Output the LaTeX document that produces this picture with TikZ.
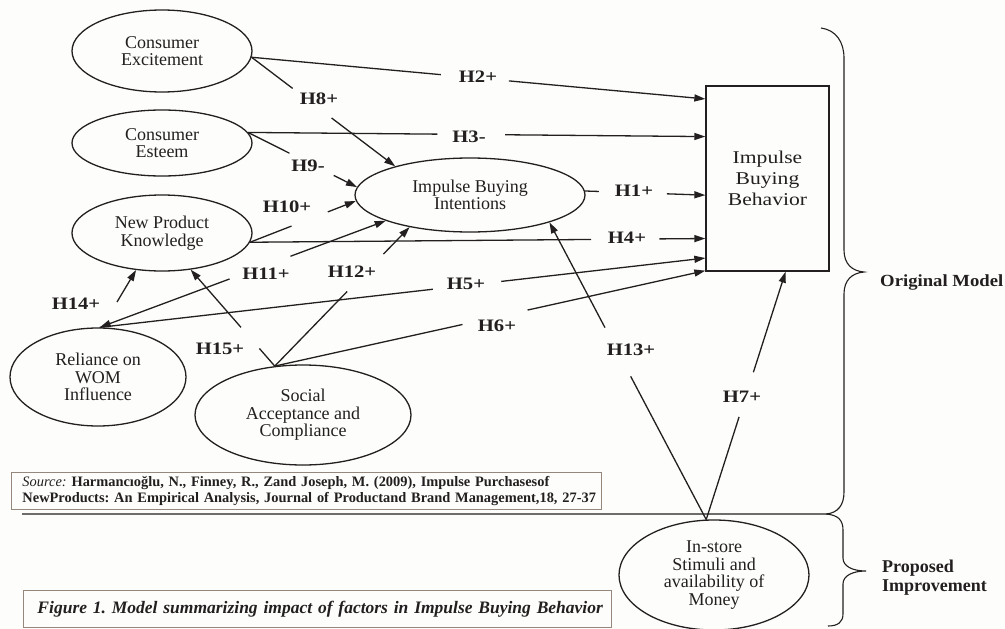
\documentclass[tikz,border=0pt]{standalone}
\usepackage{fontspec}
\setmainfont{Liberation Serif}
\newfontfamily\widefont{Liberation Serif}[FakeStretch=1.18]
\newfontfamily\midfont{Liberation Serif}[FakeStretch=1.1]
\newfontfamily\boxfont{Liberation Serif}[FakeStretch=1.2]
\usetikzlibrary{shapes.geometric,arrows.meta,calc}
\definecolor{ink}{RGB}{35,31,32}
\definecolor{bgc}{RGB}{253,253,251}
\definecolor{frame}{RGB}{150,135,125}
\frenchspacing
\begin{document}
\begin{tikzpicture}[x=1pt,y=-1pt,
  oval/.style={ellipse, draw=ink, line width=1.3pt, inner sep=0pt, align=center, text=ink,
               font=\fontsize{18}{17.6}\selectfont},
  hlab/.style={inner sep=0pt, text=ink, font=\widefont\bfseries\fontsize{17.5}{18}\selectfont},
  link/.style={draw=ink, line width=1.3pt},
  arr/.style={link, -{Triangle[length=11pt,width=7pt]}},
  bracepath/.style={draw=ink, line width=1.1pt},
  framebox/.style={draw=frame, line width=1pt, anchor=north west, align=left, text=ink}
]
\useasboundingbox (0,0) rectangle (1005,629);
\fill[bgc] (0,0) rectangle (1005,629);

% nodes
\node[oval, minimum width=180pt, minimum height=82pt] (CE) at (162,51) {Consumer\\Excitement};
\node[oval, minimum width=180pt, minimum height=66pt] (Est) at (162,143) {Consumer\\Esteem};
\node[oval, minimum width=180pt, minimum height=76pt] (NPK) at (162,233) {New Product\\Knowledge};
\node[oval, minimum width=230pt, minimum height=74pt] (IBI) at (470,195) {Impulse Buying\\Intentions};
\node[oval, minimum width=176pt, minimum height=98pt] (WOM) at (98,377) {Reliance on\\WOM\\Influence};
\node[oval, minimum width=216pt, minimum height=100pt] (SAC) at (303,415) {Social\\Acceptance and\\Compliance};
\node[oval, minimum width=190pt, minimum height=110pt] (InS) at (714,575) {In-store\\Stimuli and\\availability of\\Money};
\node[draw=ink, line width=1.3pt, minimum width=123pt, minimum height=185pt, inner sep=0pt,
      align=center, text=ink, font=\boxfont\fontsize{18}{21}\selectfont] (IBB) at (767.5,178.5)
      {Impulse\\Buying\\Behavior};

% labels
\node[hlab] (l2) at (478,77) {H2+};
\node[hlab] (l8) at (319,99) {H8+};
\node[hlab] (l3) at (469,137) {H3-};
\node[hlab] (l9) at (308,166) {H9-};
\node[hlab] (l10) at (287,207) {H10+};
\node[hlab] (l1) at (634,191) {H1+};
\node[hlab] (l4) at (627,238) {H4+};
\node[hlab] (l11) at (266,274) {H11+};
\node[hlab] (l12) at (352,272) {H12+};
\node[hlab] (l5) at (466,284) {H5+};
\node[hlab] (l14) at (76,304) {H14+};
\node[hlab] (l15) at (220,349) {H15+};
\node[hlab] (l6) at (497,326) {H6+};
\node[hlab] (l13) at (631,350) {H13+};
\node[hlab] (l7) at (742,397) {H7+};

% connectors
\draw[link] (CE.-4) -- ($(CE.-4)!.417!(IBB.128)$);
\draw[arr] ($(CE.-4)!.567!(IBB.128)$) -- (IBB.128);
\draw[link] (CE.-4) -- ($(CE.-4)!.286!(IBI.159)$);
\draw[arr] ($(CE.-4)!.557!(IBI.159)$) -- (IBI.159);

\draw[link] (Est.7) -- ($(Est.7)!.414!(IBB.146)$);
\draw[arr] ($(Est.7)!.562!(IBB.146)$) -- (IBB.146);
\draw[link] (Est.7) -- ($(Est.7)!.38!(IBI.176)$);
\draw[arr] ($(Est.7)!.787!(IBI.176)$) -- (IBI.176);

\draw[link] (NPK.-6) -- ($(NPK.-6)!.392!(IBI.183)$);
\draw[arr] ($(NPK.-6)!.735!(IBI.183)$) -- (IBI.183);
\draw[link] (NPK.-6) -- ($(NPK.-6)!.749!(IBB.224)$);
\draw[arr] ($(NPK.-6)!.899!(IBB.224)$) -- (IBB.224);

\draw[link] (IBI.2) -- ($(IBI.2)!.115!(IBB.195)$);
\draw[arr] ($(IBI.2)!.68!(IBB.195)$) -- (IBB.195);

\draw[arr] ($(WOM.88)!.454!(IBI.197)$) -- (WOM.88);
\draw[arr] ($(WOM.88)!.667!(IBI.197)$) -- (IBI.197);
\draw[link] (WOM.88) -- ($(WOM.88)!.55!(IBB.232)$);
\draw[arr] ($(WOM.88)!.663!(IBB.232)$) -- (IBB.232);

\coordinate (h14s) at (117,302);
\draw[arr] (h14s) -- (NPK.235);

\draw[link] (SAC.120) -- ($(SAC.120)!.537!(IBI.208)$);
\draw[arr] ($(SAC.120)!.806!(IBI.208)$) -- (IBI.208);
\draw[link] (SAC.120) -- ($(SAC.120)!.183!(NPK.-52)$);
\draw[arr] ($(SAC.120)!.402!(NPK.-52)$) -- (NPK.-52);
\draw[link] (SAC.120) -- ($(SAC.120)!.436!(IBB.236)$);
\draw[arr] ($(SAC.120)!.587!(IBB.236)$) -- (IBB.236);

\draw[link] (InS.98) -- ($(InS.98)!.482!(IBI.-19)$);
\draw[arr] ($(InS.98)!.646!(IBI.-19)$) -- (IBI.-19);
\draw[link] (InS.98) -- ($(InS.98)!.414!(IBB.-79)$);
\draw[arr] ($(InS.98)!.594!(IBB.-79)$) -- (IBB.-79);

% braces and divider
\draw[bracepath] (821,28) .. controls (836,30) and (844,42) .. (844,58) -- (844,250)
  .. controls (844,264) and (852,271) .. (864,272) .. controls (852,273) and (844,280) .. (844,294)
  -- (844,492) .. controls (844,505) and (838,513) .. (826,514) -- (22,514);
\draw[bracepath] (826,514) .. controls (838,515) and (843,520) .. (843,530) -- (843,558)
  .. controls (843,566) and (852,571) .. (866,571) .. controls (852,571) and (843,576) .. (843,584)
  -- (843,614) .. controls (843,622) and (838,626) .. (828,626);

\node[text=ink, inner sep=0pt, anchor=west, font=\midfont\bfseries\fontsize{17}{18}\selectfont] (om) at (880,282) {Original Model};
\node[text=ink, inner sep=0pt, anchor=west, align=left, font=\bfseries\fontsize{18}{19}\selectfont] (pi) at (882,578) {Proposed\\Improvement};

% source and caption boxes
\node[framebox, minimum width=590pt, minimum height=37pt, text width=588pt, inner xsep=1pt, inner ysep=3pt,
      font=\bfseries\fontsize{14.4}{15.5}\selectfont] (src) at (11,472)
  {\hspace*{10pt}\textmd{\textit{Source:}} Harmancıoğlu, N., Finney, R., Zand Joseph, M. (2009), Impulse Purchasesof\\\hspace*{10pt}NewProducts: An Empirical Analysis, Journal of Productand Brand Management,18, 27-37};
\node[framebox, minimum width=588pt, minimum height=37pt, text width=584pt, inner xsep=2pt, inner ysep=3pt,
      font=\bfseries\itshape\fontsize{17.5}{20}\selectfont] (cap) at (23,590)
  {\hspace*{12pt}Figure 1. Model summarizing impact of factors in Impulse Buying Behavior};
\end{tikzpicture}
\end{document}
